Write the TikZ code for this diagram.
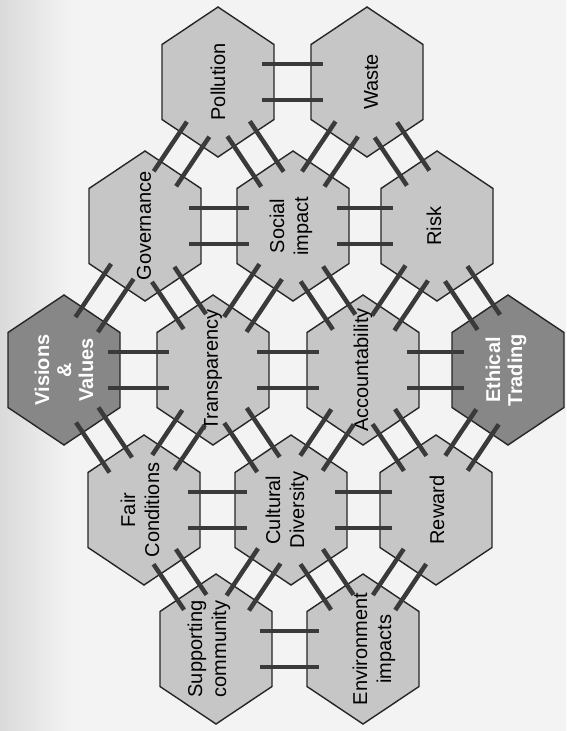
\documentclass[tikz,border=0pt]{standalone}
\usepackage{fontspec}
\setmainfont{Liberation Sans}
\usetikzlibrary{calc}
\definecolor{hexlightc}{HTML}{C6C6C6}
\definecolor{hexdarkc}{HTML}{878787}
\definecolor{barc}{HTML}{3A3A3A}
\definecolor{edgec}{HTML}{262626}
\definecolor{bgc}{HTML}{F3F3F3}
\definecolor{bgleftc}{HTML}{DADADA}

\tikzset{
  hexL/.style={fill=hexlightc, draw=edgec, line width=1.4pt, line join=miter},
  hexD/.style={fill=hexdarkc, draw=edgec, line width=1.4pt, line join=miter},
  lbl/.style={rotate=90, font=\fontsize{20}{24}\selectfont, align=center, text=black, inner sep=0pt},
  lblD/.style={rotate=90, font=\fontsize{20}{22}\selectfont\bfseries, align=center, text=white, inner sep=0pt},
  bar/.style={draw=barc, line width=4.5pt, line cap=butt},
  lad h/.code={\def\eax{56}\def\eay{0}\def\nx{1}\def\ny{0}\def\tx{0}\def\ty{1}\def\off{18}},
  lad dr/.code={\def\eax{28}\def\eay{-56.25}\def\nx{0.5565}\def\ny{-0.8310}\def\tx{0.8310}\def\ty{0.5565}\def\off{13.5}},
  lad dl/.code={\def\eax{-28}\def\eay{-56.25}\def\nx{-0.5565}\def\ny{-0.8310}\def\tx{0.8310}\def\ty{-0.5565}\def\off{13.5}},
}

% cell: name, x, y, hex style, label style, label dx, text
\newcommand\hexcell[7]{%
  \coordinate (#1) at (#2,#3);
  \draw[#4] (#1) +(0,-75) -- +(56,-37.5) -- +(56,37.5) -- +(0,75) -- +(-56,37.5) -- +(-56,-37.5) -- cycle;
  \node[#5] (#1-lbl) at ($(#1)+(#6,0)$) {#7};
}

% ladder between two cells: A, B, type
\newcommand\ladder[3]{%
  \begingroup
  \tikzset{lad #3}%
  \foreach \s in {1,-1}{%
    \draw[bar] let \p1=(#1), \p2=(#2),
      \n1={((\x2-\x1)-2*\eax)*\nx+((\y2-\y1)-2*\eay)*\ny},
      \n2={\n1/2+12}
    in ({(\x1+\x2)/2+\s*\off*\tx-\n2*\nx},{(\y1+\y2)/2+\s*\off*\ty-\n2*\ny})
    -- ({(\x1+\x2)/2+\s*\off*\tx+\n2*\nx},{(\y1+\y2)/2+\s*\off*\ty+\n2*\ny});
  }%
  \endgroup
}

\begin{document}
\begin{tikzpicture}[x=1pt,y=-1pt]
\useasboundingbox (0,0) rectangle (566,731);
\fill[bgc] (0,0) rectangle (566,731);
\shade[left color=bgleftc, right color=bgc] (0,0) rectangle (70,731);

% row 1
\hexcell{pol}{218}{82}{hexL}{lbl}{0}{Pollution}
\hexcell{was}{367}{82}{hexL}{lbl}{4}{Waste}
% row 2
\hexcell{gov}{145}{226}{hexL}{lbl}{-1}{Governance}
\hexcell{soc}{293}{226}{hexL}{lbl}{-2}{Social\\impact}
\hexcell{ris}{437}{226}{hexL}{lbl}{-3}{Risk}
% row 3
\hexcell{vis}{64}{370}{hexD}{lblD}{0}{Visions\\\&\\Values}
\hexcell{tra}{213}{370}{hexL}{lbl}{0}{Transparency}
\hexcell{acc}{363}{370}{hexL}{lbl}{0}{Accountability}
\hexcell{eth}{508}{370}{hexD}{lblD}{-2}{Ethical\\Trading}
% row 4
\hexcell{fai}{144}{510}{hexL}{lbl}{-4}{Fair\\Conditions}
\hexcell{cul}{291}{510}{hexL}{lbl}{-4}{Cultural\\Diversity}
\hexcell{rew}{436}{510}{hexL}{lbl}{1}{Reward}
% row 5
\hexcell{sup}{216}{649}{hexL}{lbl}{-7}{Supporting\\community}
\hexcell{env}{363}{649}{hexL}{lbl}{11}{Environment\\impacts}

% horizontal ladders
\ladder{pol}{was}{h}
\ladder{gov}{soc}{h}
\ladder{soc}{ris}{h}
\ladder{vis}{tra}{h}
\ladder{tra}{acc}{h}
\ladder{acc}{eth}{h}
\ladder{fai}{cul}{h}
\ladder{cul}{rew}{h}
\ladder{sup}{env}{h}
% diagonal ladders
\ladder{pol}{gov}{dl}
\ladder{pol}{soc}{dr}
\ladder{was}{soc}{dl}
\ladder{was}{ris}{dr}
\ladder{gov}{vis}{dl}
\ladder{gov}{tra}{dr}
\ladder{soc}{tra}{dl}
\ladder{soc}{acc}{dr}
\ladder{ris}{acc}{dl}
\ladder{ris}{eth}{dr}
\ladder{vis}{fai}{dr}
\ladder{tra}{fai}{dl}
\ladder{tra}{cul}{dr}
\ladder{acc}{cul}{dl}
\ladder{acc}{rew}{dr}
\ladder{eth}{rew}{dl}
\ladder{fai}{sup}{dr}
\ladder{cul}{sup}{dl}
\ladder{cul}{env}{dr}
\ladder{rew}{env}{dl}
\end{tikzpicture}
\end{document}
